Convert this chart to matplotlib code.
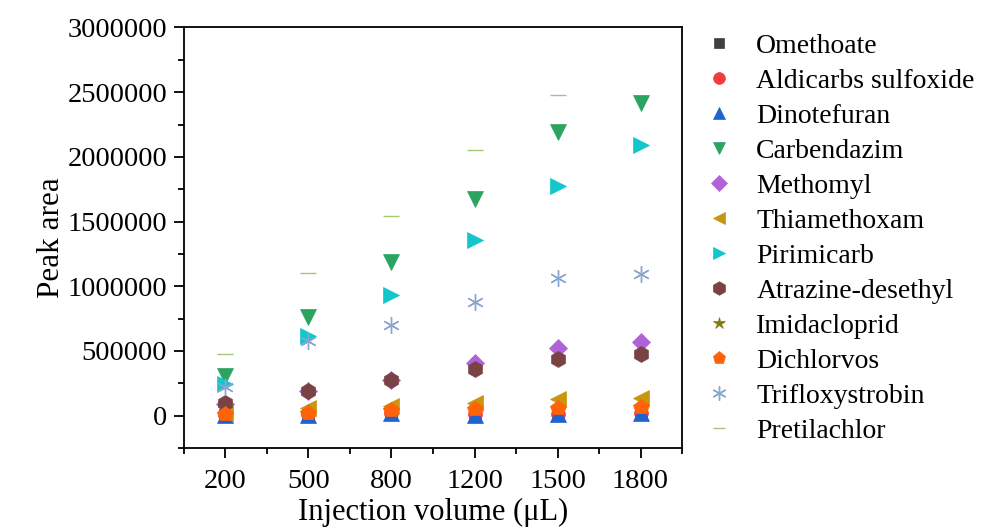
import numpy as np
import matplotlib
matplotlib.use("Agg")
import matplotlib.pyplot as plt
from matplotlib.ticker import MultipleLocator

plt.rcParams['font.family'] = ['Liberation Serif', 'DejaVu Serif']

volumes = ["200", "500", "800", "1200", "1500", "1800"]

omethoate = [5000, 8000, 20000, 10000, 15000, 20000]
aldicarbs_sulfoxide = [5000, 10000, 20000, 10000, 15000, 20000]
dinotefuran = [5000, 8000, 20000, 5000, 15000, 20000]
carbendazim = [310000, 761000, 1190000, 1677000, 2193000, 2415000]
methomyl = [90000, 190000, 276000, 410000, 525000, 567000]
thiamethoxam = [20000, 60000, 75000, 100000, 125000, 140000]
pirimicarb = [245000, 612000, 929000, 1360000, 1772000, 2090000]
atrazine_desethyl = [95000, 188000, 276000, 358000, 435000, 477000]
imidacloprid = [15000, 25000, 40000, 55000, 60000, 70000]
dichlorvos = [15000, 20000, 40000, 52000, 60000, 70000]
trifloxystrobin = [225000, 580000, 697000, 880000, 1063000, 1091000]
pretilachlor = [478000, 1104000, 1546000, 2051000, 2479000, np.nan]

series = [
    ("Omethoate", omethoate, "s", "#404040", 9),
    ("Aldicarbs sulfoxide", aldicarbs_sulfoxide, "o", "#F43B40", 10),
    ("Dinotefuran", dinotefuran, "^", "#1F63CF", 11),
    ("Carbendazim", carbendazim, "v", "#2CA461", 11),
    ("Methomyl", methomyl, "D", "#B062D9", 9.5),
    ("Thiamethoxam", thiamethoxam, "<", "#C9960D", 11),
    ("Pirimicarb", pirimicarb, ">", "#12C6CC", 11),
    ("Atrazine-desethyl", atrazine_desethyl, "h", "#7A4343", 11.5),
    ("Imidacloprid", imidacloprid, "*", "#7D7D12", 11),
    ("Dichlorvos", dichlorvos, "p", "#FF6308", 11.5),
    ("Trifloxystrobin", trifloxystrobin, (6, 2, 0), "#8AA5CF", 12),
    ("Pretilachlor", pretilachlor, "_", "#A3C870", 11),
]

fig = plt.figure(figsize=(9.87, 5.28), dpi=100)
ax = fig.add_axes([0.1864, 0.1515, 0.5046, 0.7965])

x = np.arange(1, len(volumes) + 1)
for name, vals, mk, col, ms in series:
    ax.plot(x, vals, linestyle="none", marker=mk, color=col, markersize=ms,
            markeredgewidth=1.0 if mk in ((6, 2, 0), "_") else 0.5,
            label=name)

ax.set_xlim(0.5, 6.5)
ax.set_ylim(-250000, 3000000)
ax.set_xticks(x)
ax.set_xticklabels(volumes)
ax.xaxis.set_minor_locator(MultipleLocator(0.5))
ax.yaxis.set_major_locator(MultipleLocator(500000))
ax.yaxis.set_minor_locator(MultipleLocator(250000))
ax.ticklabel_format(axis="y", style="plain", useOffset=False)

ax.tick_params(which="major", direction="out", length=7, width=1.3, labelsize=20.5,
               top=False, right=False)
ax.tick_params(axis="x", which="major", pad=8)
ax.tick_params(axis="y", which="major", pad=5)
ax.tick_params(which="minor", direction="out", length=4, width=1.3,
               top=False, right=False)
for sp in ax.spines.values():
    sp.set_linewidth(1.3)

ax.set_xlabel("Injection volume (μL)", fontsize=22, labelpad=3)
ax.set_ylabel("Peak area", fontsize=22.5, labelpad=1)

ax.legend(loc="upper left", bbox_to_anchor=(0.703, 0.958), bbox_transform=fig.transFigure,
          frameon=False, fontsize=20, handlelength=1.0, handletextpad=0.85,
          labelspacing=0.345, borderaxespad=0, markerscale=0.85)

fig.savefig("out.png", dpi=100)
